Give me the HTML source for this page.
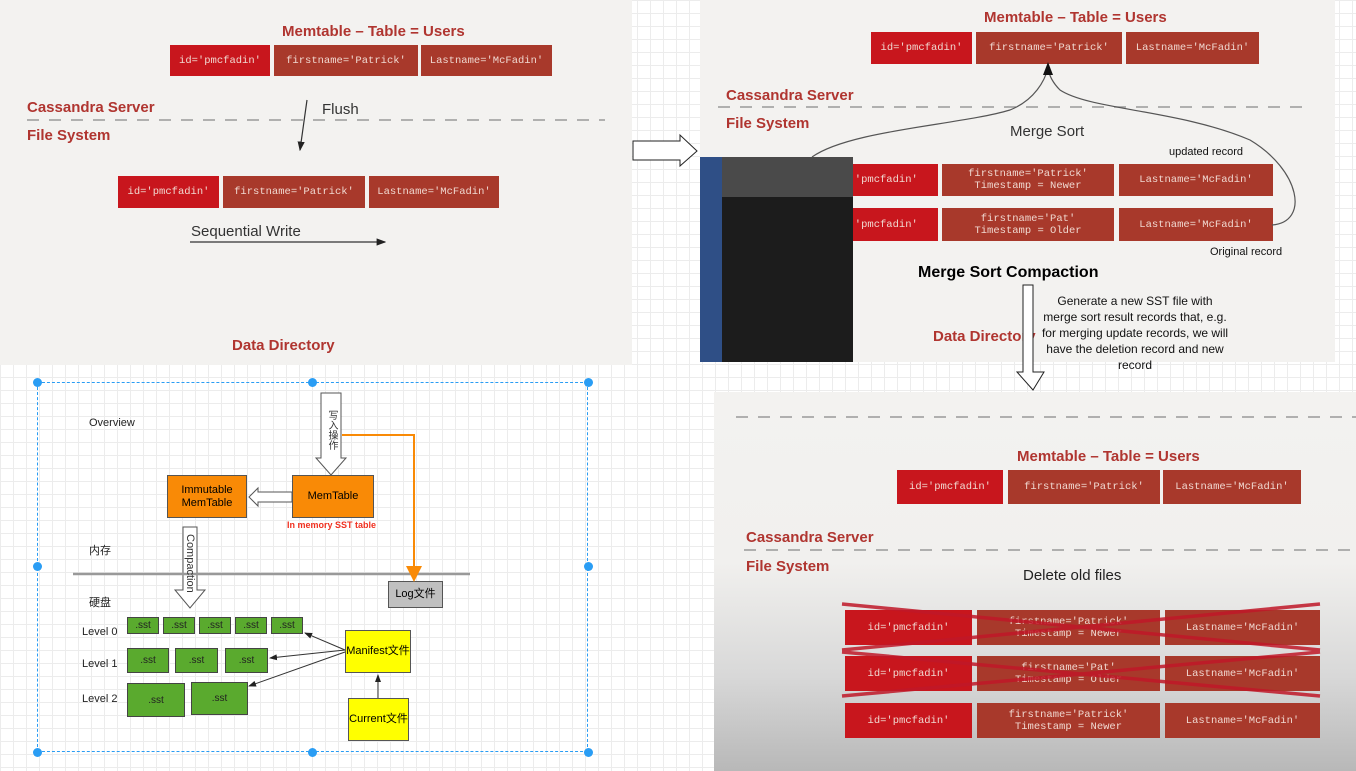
<!DOCTYPE html>
<html><head><meta charset="utf-8"><style>
*{margin:0;padding:0;box-sizing:border-box}
body{width:1356px;height:771px;position:relative;overflow:hidden;font-family:"Liberation Sans","Noto Sans CJK SC",sans-serif;
background-color:#fff;background-image:linear-gradient(#ececec 1px,transparent 1px),linear-gradient(90deg,#ececec 1px,transparent 1px);background-size:13px 13px;}
.a{position:absolute}
.p{position:absolute;background:#f3f2f0}
.t{position:absolute;color:#b03530;font-weight:bold;font-size:15px;white-space:nowrap}
.b{position:absolute;background:#a8392b;color:#f0d8d0;font-family:"Liberation Mono",monospace;font-size:10.5px;display:flex;align-items:center;justify-content:center;text-align:center;line-height:12px;white-space:pre}
.r{background:#c8161d}
.sst{position:absolute;background:#5aaa2e;border:1px solid #444;font-size:10px;color:#222;display:flex;align-items:center;justify-content:center}
.k{position:absolute;font-size:11px;color:#222;white-space:nowrap}
.h{position:absolute;width:9px;height:9px;border-radius:50%;background:#2a9df4}
.z{z-index:5}
</style></head><body>
<!-- top-left panel -->
<div class="p" style="left:0;top:0;width:632px;height:365px"></div>
<div class="t" style="left:282px;top:23px">Memtable – Table = Users</div>
<div class="b r" style="left:170px;top:45px;width:100px;height:31px">id='pmcfadin'</div>
<div class="b" style="left:274px;top:45px;width:144px;height:31px">firstname='Patrick'</div>
<div class="b" style="left:421px;top:45px;width:131px;height:31px">Lastname='McFadin'</div>
<div class="t" style="left:27px;top:99px">Cassandra Server</div>
<div class="t" style="left:27px;top:127px">File System</div>
<div class="a" style="left:322px;top:101px;font-size:15px;color:#333">Flush</div>
<div class="b r" style="left:118px;top:176px;width:101px;height:32px">id='pmcfadin'</div>
<div class="b" style="left:223px;top:176px;width:142px;height:32px">firstname='Patrick'</div>
<div class="b" style="left:369px;top:176px;width:130px;height:32px">Lastname='McFadin'</div>
<div class="a" style="left:191px;top:223px;font-size:15px;color:#333">Sequential Write</div>
<div class="t" style="left:232px;top:337px">Data Directory</div>

<!-- top-right panel -->
<div class="p" style="left:700px;top:0;width:635px;height:362px"></div>
<div class="t" style="left:984px;top:9px">Memtable – Table = Users</div>
<div class="b r" style="left:871px;top:32px;width:101px;height:32px">id='pmcfadin'</div>
<div class="b" style="left:976px;top:32px;width:146px;height:32px">firstname='Patrick'</div>
<div class="b" style="left:1126px;top:32px;width:133px;height:32px">Lastname='McFadin'</div>
<div class="t" style="left:726px;top:87px">Cassandra Server</div>
<div class="t" style="left:726px;top:115px">File System</div>
<div class="a" style="left:1010px;top:123px;font-size:15px;color:#333">Merge Sort</div>
<div class="a" style="left:1169px;top:146px;font-size:11px;color:#111">updated record</div>
<div class="b r" style="left:822px;top:164px;width:116px;height:32px">  'pmcfadin'</div>
<div class="b" style="left:942px;top:164px;width:172px;height:32px">firstname='Patrick'
Timestamp = Newer</div>
<div class="b" style="left:1119px;top:164px;width:154px;height:32px">Lastname='McFadin'</div>
<div class="b r" style="left:822px;top:208px;width:116px;height:33px">  'pmcfadin'</div>
<div class="b" style="left:942px;top:208px;width:172px;height:33px">firstname='Pat'
Timestamp = Older</div>
<div class="b" style="left:1119px;top:208px;width:154px;height:33px">Lastname='McFadin'</div>
<div class="a" style="left:700px;top:157px;width:153px;height:205px;background:#1c1c1c"></div>
<div class="a" style="left:700px;top:157px;width:22px;height:205px;background:#2f4f86"></div>
<div class="a" style="left:722px;top:157px;width:131px;height:40px;background:#4a4a4a"></div>
<div class="a" style="left:1210px;top:246px;font-size:11px;color:#111">Original record</div>
<div class="a" style="left:918px;top:264px;font-size:16px;font-weight:bold;color:#000">Merge Sort Compaction</div>
<div class="t" style="left:933px;top:328px">Data Directory</div>

<!-- bottom-right panel -->
<div class="a" style="left:714px;top:392px;width:642px;height:379px;background:linear-gradient(#f3f2f0 0%,#f1f0ee 45%,#d8d8d8 75%,#b8b8b8 100%)"></div>
<div class="t" style="left:1017px;top:448px">Memtable – Table = Users</div>
<div class="b r" style="left:897px;top:470px;width:106px;height:34px">id='pmcfadin'</div>
<div class="b" style="left:1008px;top:470px;width:152px;height:34px">firstname='Patrick'</div>
<div class="b" style="left:1163px;top:470px;width:138px;height:34px">Lastname='McFadin'</div>
<div class="t" style="left:746px;top:529px">Cassandra Server</div>
<div class="t" style="left:746px;top:558px">File System</div>
<div class="a" style="left:1023px;top:567px;font-size:15px;color:#222">Delete old files</div>
<div class="b r" style="left:845px;top:610px;width:127px;height:35px">id='pmcfadin'</div>
<div class="b" style="left:977px;top:610px;width:183px;height:35px">firstname='Patrick'
Timestamp = Newer</div>
<div class="b" style="left:1165px;top:610px;width:155px;height:35px">Lastname='McFadin'</div>
<div class="b r" style="left:845px;top:656px;width:127px;height:35px">id='pmcfadin'</div>
<div class="b" style="left:977px;top:656px;width:183px;height:35px">firstname='Pat'
Timestamp = Older</div>
<div class="b" style="left:1165px;top:656px;width:155px;height:35px">Lastname='McFadin'</div>
<div class="b r" style="left:845px;top:703px;width:127px;height:35px">id='pmcfadin'</div>
<div class="b" style="left:977px;top:703px;width:183px;height:35px">firstname='Patrick'
Timestamp = Newer</div>
<div class="b" style="left:1165px;top:703px;width:155px;height:35px">Lastname='McFadin'</div>

<!-- bottom-left -->
<div class="a" style="left:37px;top:382px;width:551px;height:370px;border:1px dashed #2a9df4"></div>
<div class="h" style="left:33px;top:378px"></div><div class="h" style="left:308px;top:378px"></div><div class="h" style="left:584px;top:378px"></div>
<div class="h" style="left:33px;top:562px"></div><div class="h" style="left:584px;top:562px"></div>
<div class="h" style="left:33px;top:748px"></div><div class="h" style="left:308px;top:748px"></div><div class="h" style="left:584px;top:748px"></div>
<div class="k" style="left:89px;top:417px">Overview</div>
<div class="a" style="left:167px;top:475px;width:80px;height:43px;background:#f98a06;border:1px solid #555;font-size:11px;text-align:center;padding-top:8px;line-height:13px">Immutable<br>MemTable</div>
<div class="a" style="left:292px;top:475px;width:82px;height:43px;background:#f98a06;border:1px solid #555;font-size:11px;text-align:center;line-height:41px">MemTable</div>
<div class="a" style="left:287px;top:520px;font-size:9px;font-weight:bold;color:#f03020">In memory SST table</div>
<div class="k" style="left:89px;top:542px">内存</div>
<div class="k" style="left:89px;top:594px">硬盘</div>
<div class="a" style="left:388px;top:581px;width:55px;height:27px;background:#c0c0c0;border:1px solid #555;font-size:11px;text-align:center;line-height:25px">Log文件</div>
<div class="k" style="left:82px;top:626px">Level 0</div>
<div class="k" style="left:82px;top:658px">Level 1</div>
<div class="k" style="left:82px;top:693px">Level 2</div>
<div class="sst" style="left:127px;top:617px;width:32px;height:17px">.sst</div>
<div class="sst" style="left:163px;top:617px;width:32px;height:17px">.sst</div>
<div class="sst" style="left:199px;top:617px;width:32px;height:17px">.sst</div>
<div class="sst" style="left:235px;top:617px;width:32px;height:17px">.sst</div>
<div class="sst" style="left:271px;top:617px;width:32px;height:17px">.sst</div>
<div class="sst" style="left:127px;top:648px;width:42px;height:25px">.sst</div>
<div class="sst" style="left:175px;top:648px;width:43px;height:25px">.sst</div>
<div class="sst" style="left:225px;top:648px;width:43px;height:25px">.sst</div>
<div class="sst" style="left:127px;top:683px;width:58px;height:34px">.sst</div>
<div class="sst" style="left:191px;top:682px;width:57px;height:33px">.sst</div>
<div class="a" style="left:345px;top:630px;width:66px;height:43px;background:#ffff00;border:1px solid #555;font-size:11px;text-align:center;line-height:41px">Manifest文件</div>
<div class="a" style="left:348px;top:698px;width:61px;height:43px;background:#ffff00;border:1px solid #555;font-size:11px;text-align:center;line-height:41px">Current文件</div>

<svg class="a" style="left:0;top:0" width="1356" height="771">
<defs><marker id="m" markerWidth="8" markerHeight="8" refX="7" refY="4" orient="auto"><path d="M0,1 L8,4 L0,7 z" fill="#222"/></marker>
<marker id="o" markerWidth="8" markerHeight="8" refX="6" refY="4" orient="auto"><path d="M0,0 L8,4 L0,8 z" fill="#f98a06"/></marker></defs>
<g stroke="#999" stroke-width="1.5" stroke-dasharray="12,10" fill="none">
<line x1="27" y1="120" x2="605" y2="120"/><line x1="718" y1="107" x2="1310" y2="107"/>
<line x1="736" y1="417" x2="1356" y2="417"/><line x1="744" y1="550" x2="1356" y2="550"/></g>
<line x1="307" y1="100" x2="300" y2="150" stroke="#333" stroke-width="1.2" marker-end="url(#m)"/>
<line x1="190" y1="242" x2="385" y2="242" stroke="#333" stroke-width="1.2" marker-end="url(#m)"/>
<path d="M633,141 L680,141 L680,135 L697,151 L680,166 L680,160 L633,160 Z" fill="#fff" stroke="#222"/>
<path d="M812,157 C850,130 960,125 1010,110 C1035,100 1045,80 1048,68" fill="none" stroke="#555" stroke-width="1.2"/>
<path d="M1272,225 C1310,222 1300,170 1250,140 C1180,110 1090,110 1060,90 C1052,82 1049,75 1048,68" fill="none" stroke="#555" stroke-width="1.2"/>
<path d="M1048,62 L1043,75 L1053,75 Z" fill="#111"/>
<path d="M1023,285 L1033,285 L1033,372 L1044,372 L1033,390 L1017,372 L1023,372 Z" fill="#fff" stroke="#222"/>
<g stroke="#c01828" stroke-width="3.5" opacity="0.85">
<line x1="842" y1="604" x2="1320" y2="650"/><line x1="842" y1="650" x2="1320" y2="604"/>
<line x1="842" y1="652" x2="1320" y2="696"/><line x1="842" y1="696" x2="1320" y2="652"/></g>
<path d="M321,393 L341,393 L341,458 L346,458 L331,475 L316,458 L321,458 Z" fill="#fff" stroke="#555"/>
<path d="M292,492 L258,492 L258,488 L249,497 L258,506 L258,502 L292,502 Z" fill="#fff" stroke="#555"/>
<path d="M183,527 L197,527 L197,590 L205,590 L190,608 L175,590 L183,590 Z" fill="#fff" stroke="#555"/>
<line x1="73" y1="574" x2="470" y2="574" stroke="#999" stroke-width="2.5"/>
<path d="M342,435 L414,435 L414,578" fill="none" stroke="#f98a06" stroke-width="2" marker-end="url(#o)"/>
<g stroke="#333" stroke-width="1" marker-end="url(#m)">
<line x1="345" y1="650" x2="305" y2="633"/><line x1="345" y1="650" x2="270" y2="658"/>
<line x1="345" y1="652" x2="249" y2="686"/><line x1="378" y1="698" x2="378" y2="675"/></g>
</svg>
<div class="a z" style="left:1015px;top:293px;width:240px;font-size:12px;line-height:16px;text-align:center;color:#111;white-space:nowrap">Generate a new SST file with<br>merge sort result records that, e.g.<br>for merging update records, we will<br>have the deletion record and new<br>record</div>
<div class="a z" style="left:324px;top:410px;font-size:10px;color:#333;writing-mode:vertical-rl">写入操作</div>
<div class="a z" style="left:184px;top:534px;font-size:11px;color:#333;writing-mode:vertical-rl">Compaction</div>
</body></html>
